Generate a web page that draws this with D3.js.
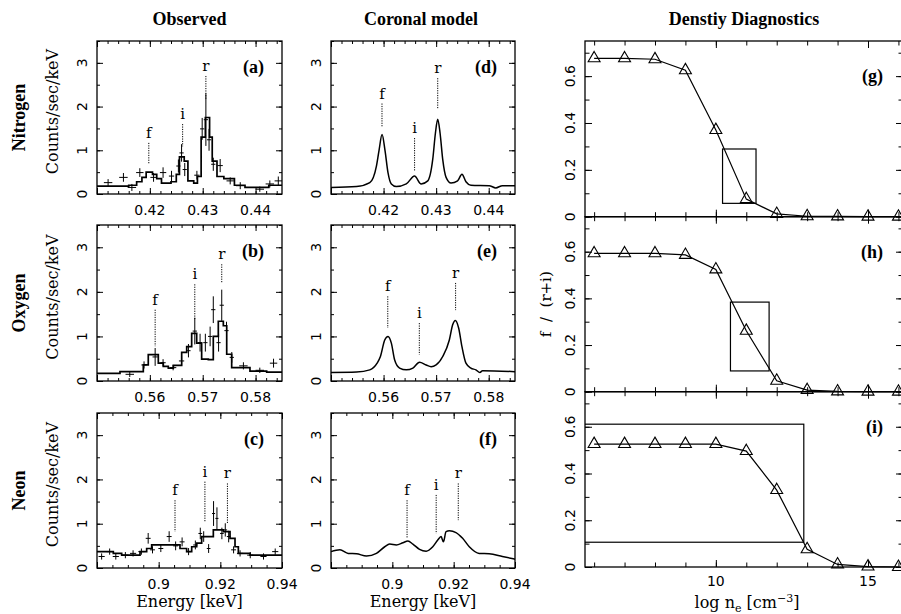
<!DOCTYPE html>
<html>
<head>
<meta charset="utf-8">
<script src="https://cdn.jsdelivr.net/npm/d3@7"></script>
<style>
  body { margin: 0; background: #fff; }
  svg { display: block; }
</style>
</head>
<body>
<div id="chart"></div>
<script>
const svgWidth = 901;
const svgHeight = 614;

// ---------------- data ----------------
const lineNames = ["f", "i", "r"];

// Nitrogen (N VI triplet)
const nitroRange = [0.41, 0.445];
const nitroTickLabels = [0.42, 0.43, 0.44];
const nitroHistEdges = [0.410, 0.416, 0.4175, 0.4185, 0.4193, 0.4205, 0.4213, 0.4222, 0.4240, 0.4250,
  0.4256, 0.4265, 0.4272, 0.4283, 0.4290, 0.4297, 0.4305, 0.4313, 0.4318, 0.4327, 0.4340, 0.4360,
  0.4380, 0.4425, 0.445];
const nitroHistCounts = [0.18, 0.2, 0.28, 0.38, 0.5, 0.45, 0.35, 0.25, 0.28, 0.45, 0.85, 0.75, 0.3,
  0.25, 0.4, 1.3, 1.75, 1.3, 0.75, 0.4, 0.35, 0.2, 0.15, 0.2];
const nitroDataE = [0.4121, 0.4150, 0.4166, 0.4181, 0.4207, 0.4225, 0.4241, 0.4254, 0.4260, 0.4266,
  0.4289, 0.4299, 0.4306, 0.4312, 0.4320, 0.4333, 0.4352, 0.4371, 0.4408, 0.4427, 0.4443];
const nitroDataV = [0.26, 0.38, 0.15, 0.49, 0.38, 0.49, 0.41, 0.64, 0.94, 0.56, 0.43, 1.49, 1.7, 1.24,
  0.68, 0.65, 0.3, 0.19, 0.11, 0.23, 0.3];
const nitroDataEx = [0.0008, 0.0008, 0.0008, 0.0007, 0.0006, 0.0006, 0.0005, 0.0004, 0.0004, 0.0004,
  0.0005, 0.0004, 0.0004, 0.0004, 0.0004, 0.0005, 0.0007, 0.0008, 0.0008, 0.0008, 0.0007];
const nitroDataEy = [0.08, 0.1, 0.08, 0.1, 0.1, 0.12, 0.12, 0.15, 0.2, 0.15, 0.1, 0.25, 0.6, 0.25,
  0.15, 0.15, 0.08, 0.08, 0.06, 0.08, 0.1];
const nitroObsLineE = [0.4198, 0.4262, 0.4306];
const nitroObsLineTop = [1.17, 1.6, 2.7];
const nitroObsLineBot = [0.68, 1.09, 2.15];
const nitroModelE = [0.41, 0.41486, 0.41738, 0.41864, 0.41914, 0.41971, 0.42027, 0.42084, 0.42148,
  0.42242, 0.42432, 0.42589, 0.42715, 0.42841, 0.42935, 0.42986, 0.4303, 0.43075, 0.43125, 0.43189,
  0.43283, 0.43408, 0.43491, 0.43567, 0.43662, 0.44008, 0.44134, 0.4426, 0.445];
const nitroModelV = [0.15, 0.17, 0.26, 0.64, 1.0, 1.36, 1.0, 0.49, 0.23, 0.17, 0.23, 0.41, 0.23, 0.3,
  0.79, 1.39, 1.71, 1.39, 0.79, 0.38, 0.25, 0.3, 0.45, 0.28, 0.2, 0.19, 0.14, 0.19, 0.19];
const nitroModelLineE = [0.4197, 0.4259, 0.4303];
const nitroModelLineTop = [2.07, 1.28, 2.65];
const nitroModelLineBot = [1.54, 0.53, 1.95];

// Oxygen (O VII triplet)
const oxyRange = [0.55, 0.585];
const oxyTickLabels = [0.56, 0.57, 0.58];
const oxyHistEdges = [0.55, 0.55435, 0.55876, 0.5597, 0.5616, 0.56254, 0.56349, 0.56444, 0.56602,
  0.56697, 0.56791, 0.56886, 0.5698, 0.57106, 0.572, 0.57295, 0.5739, 0.57454, 0.57548, 0.57894,
  0.5821, 0.585];
const oxyHistCounts = [0.17, 0.21, 0.36, 0.59, 0.4, 0.33, 0.29, 0.35, 0.64, 0.77, 1.07, 0.85, 0.49,
  0.48, 1.0, 1.34, 1.24, 0.6, 0.3, 0.22, 0.2];
const oxyDataE = [0.5562, 0.5589, 0.5610, 0.5625, 0.5644, 0.5660, 0.5673, 0.5685, 0.5695, 0.5705,
  0.5714, 0.5720, 0.5730, 0.5736, 0.5745, 0.5755, 0.5777, 0.5808, 0.5834];
const oxyDataV = [0.15, 0.36, 0.54, 0.41, 0.3, 0.45, 0.68, 1.12, 0.86, 0.86, 1.0, 1.6, 0.86, 1.7,
  1.13, 0.53, 0.34, 0.24, 0.4];
const oxyDataEx = [0.0008, 0.0005, 0.0005, 0.0005, 0.0006, 0.0005, 0.0004, 0.0004, 0.0004, 0.0004,
  0.0004, 0.0004, 0.0004, 0.0004, 0.0004, 0.0004, 0.0008, 0.0008, 0.0007];
const oxyDataEy = [0.06, 0.08, 0.2, 0.08, 0.06, 0.1, 0.15, 0.3, 0.2, 0.2, 0.22, 0.3, 0.2, 0.35, 0.2,
  0.12, 0.08, 0.06, 0.1];
const oxyObsLineE = [0.5610, 0.5685, 0.5736];
const oxyObsLineTop = [1.6, 2.17, 2.62];
const oxyObsLineBot = [0.78, 1.38, 2.21];
const oxyModelE = [0.55, 0.55486, 0.55738, 0.55877, 0.5594, 0.56022, 0.56085, 0.56148, 0.56211,
  0.56305, 0.56432, 0.56558, 0.56684, 0.5681, 0.56904, 0.56999, 0.57125, 0.57251, 0.57314, 0.57365,
  0.57428, 0.57491, 0.57567, 0.57661, 0.57756, 0.57831, 0.57882, 0.585];
const oxyModelV = [0.19, 0.2, 0.25, 0.4, 0.55, 0.92, 1.0, 0.85, 0.47, 0.29, 0.25, 0.29, 0.42, 0.36,
  0.32, 0.36, 0.55, 0.92, 1.26, 1.36, 1.19, 0.77, 0.4, 0.29, 0.25, 0.19, 0.23, 0.21];
const oxyModelLineE = [0.5608, 0.5668, 0.5737];
const oxyModelLineTop = [1.9, 1.3, 2.2];
const oxyModelLineBot = [1.19, 0.59, 1.59];

// Neon (Ne IX triplet)
const neonRange = [0.88, 0.94];
const neonTickLabels = [0.9, 0.92, 0.94];
const neonHistEdges = [0.88, 0.88529, 0.888, 0.89395, 0.89611, 0.89773, 0.90692, 0.90908, 0.91071,
  0.91233, 0.91395, 0.91773, 0.92097, 0.92314, 0.92476, 0.92584, 0.92963, 0.94];
const neonHistCounts = [0.37, 0.33, 0.29, 0.37, 0.44, 0.52, 0.44, 0.37, 0.48, 0.56, 0.71, 0.86, 0.82,
  0.67, 0.48, 0.33, 0.29];
const neonDataE = [0.8815, 0.8841, 0.8861, 0.8892, 0.8917, 0.8944, 0.8966, 0.8980, 0.9007, 0.9034,
  0.9055, 0.9076, 0.9097, 0.9119, 0.9135, 0.9146, 0.9162, 0.9178, 0.9189, 0.9205, 0.9216, 0.9227,
  0.9243, 0.9264, 0.9297, 0.9340, 0.9378];
const neonDataV = [0.26, 0.37, 0.26, 0.29, 0.33, 0.37, 0.67, 0.41, 0.44, 0.71, 0.5, 0.59, 0.37, 0.52,
  0.78, 0.71, 0.44, 1.23, 1.12, 0.78, 0.86, 0.71, 0.41, 0.33, 0.29, 0.26, 0.37];
const neonDataEx = [0.001, 0.001, 0.001, 0.001, 0.001, 0.001, 0.0008, 0.0008, 0.0008, 0.0008, 0.0008,
  0.0008, 0.0008, 0.0007, 0.0006, 0.0006, 0.0006, 0.0005, 0.0005, 0.0006, 0.0006, 0.0006, 0.0008,
  0.001, 0.001, 0.001, 0.001];
const neonDataEy = [0.07, 0.07, 0.07, 0.07, 0.07, 0.07, 0.12, 0.08, 0.08, 0.12, 0.1, 0.1, 0.08, 0.1,
  0.13, 0.12, 0.1, 0.28, 0.25, 0.13, 0.15, 0.13, 0.08, 0.07, 0.07, 0.07, 0.07];
const neonObsLineE = [0.9053, 0.9150, 0.9223];
const neonObsLineTop = [1.53, 1.95, 1.91];
const neonObsLineBot = [0.82, 1.05, 1.0];
const neonModelE = [0.88, 0.88292, 0.88562, 0.88833, 0.89157, 0.89481, 0.89752, 0.89914, 0.9013,
  0.90346, 0.90508, 0.9067, 0.90887, 0.91103, 0.91319, 0.91481, 0.9159, 0.91665, 0.91752, 0.9186,
  0.92076, 0.92292, 0.92509, 0.92833, 0.93157, 0.93589, 0.94];
const neonModelV = [0.37, 0.41, 0.33, 0.32, 0.27, 0.33, 0.48, 0.54, 0.52, 0.57, 0.61, 0.54, 0.42,
  0.38, 0.48, 0.63, 0.71, 0.59, 0.82, 0.84, 0.8, 0.67, 0.48, 0.33, 0.32, 0.26, 0.2];
const neonModelLineE = [0.9048, 0.9143, 0.9215];
const neonModelLineTop = [1.53, 1.65, 1.91];
const neonModelLineBot = [0.67, 0.78, 1.08];

// density diagnostics: f/(r+i) vs log n_e
const logNe = [6, 7, 8, 9, 10, 11, 12, 13, 14, 15, 16];
const nitroRatio = [0.676, 0.676, 0.672, 0.625, 0.37, 0.075, 0.012, 0.002, 0.001, 0, 0];
const oxyRatio = [0.593, 0.593, 0.593, 0.586, 0.524, 0.261, 0.047, 0.007, 0.001, 0, 0];
const neonRatio = [0.526, 0.526, 0.526, 0.526, 0.526, 0.496, 0.329, 0.076, 0.011, 0.002, 0];
// measured boxes: [logNe lo, logNe hi, ratio lo, ratio hi]
const nitroBox = [10.22, 11.32, 0.057, 0.289];
const oxyBox = [10.48, 11.75, 0.089, 0.384];
const neonBox = [5.0, 12.89, 0.106, 0.611];
const logNeRange = [5.7, 16.15];
const logNeTickLabels = [10, 15];
const ratioRange = [0, 0.75];
const ratioTickLabels = [0, 0.2, 0.4, 0.6];

// ---------------- layout ----------------
const obsCol = [97, 282];
const modelCol = [331, 515];
const densCol = [585, 903];
const specRows = [[41, 194], [225, 381], [413, 568]];
const densRows = [[41, 216.7], [216.7, 391.7], [391.7, 567]];

const serif = "'DejaVu Serif', serif";
const bold = "'Liberation Serif', 'Times New Roman', serif";
const sans = "'DejaVu Sans', sans-serif";

const svg = d3.select("#chart")
  .append("svg")
  .attr("width", svgWidth)
  .attr("height", svgHeight);

// multiples of step inside a domain
function tickRange(d, step) {
  const k0 = Math.ceil(d[0] / step - 1e-6);
  const k1 = Math.floor(d[1] / step + 1e-6);
  return d3.range(k0, k1 + 1).map(k => +(k * step).toFixed(6));
}

// frame with inward ticks on all four sides
function drawFrame(g, x, y, xMajor, xMinor, yMajor, yMinor, lenMajor, lenMinor) {
  const [x0, x1] = x.range();
  const [y1, y0] = y.range();
  const sides = [
    [d3.axisBottom, x, `translate(0,${y1})`, xMajor, xMinor],
    [d3.axisTop, x, `translate(0,${y0})`, xMajor, xMinor],
    [d3.axisLeft, y, `translate(${x0},0)`, yMajor, yMinor],
    [d3.axisRight, y, `translate(${x1},0)`, yMajor, yMinor]
  ];
  sides.forEach(([axisFn, sc, tr, major, minor]) => {
    [[minor, lenMinor], [major, lenMajor]].forEach(([vals, len]) => {
      g.append("g")
        .attr("transform", tr)
        .call(axisFn(sc).tickValues(vals).tickSize(-len).tickFormat(""))
        .call(a => a.select(".domain").remove())
        .selectAll("line").attr("stroke", "#000").attr("stroke-width", 1);
    });
  });
  g.append("rect")
    .attr("x", x0).attr("y", y0)
    .attr("width", x1 - x0).attr("height", y1 - y0)
    .attr("fill", "none").attr("stroke", "#000").attr("stroke-width", 1.3);
}

function yTickLabels(g, x, y, vals, fmt) {
  const x0 = x.range()[0];
  g.selectAll(null).data(vals).enter().append("text")
    .attr("transform", d => `translate(${x0 - 10},${y(d)}) rotate(-90)`)
    .attr("text-anchor", "middle")
    .attr("font-family", sans).attr("font-size", 14)
    .text(fmt);
}

function xTickLabels(g, x, y, vals, fmt, off) {
  const yb = y.range()[0];
  g.selectAll(null).data(vals).enter().append("text")
    .attr("x", d => x(d)).attr("y", yb + off)
    .attr("text-anchor", "middle")
    .attr("font-family", sans).attr("font-size", 14)
    .text(fmt);
}

function lineMarkers(g, x, y, es, tops, bots) {
  es.forEach((e, i) => {
    g.append("line")
      .attr("x1", x(e)).attr("x2", x(e))
      .attr("y1", y(tops[i])).attr("y2", y(bots[i]))
      .attr("stroke", "#000").attr("stroke-width", 1)
      .attr("stroke-dasharray", "1.2,1.2");
    g.append("text")
      .attr("x", x(e)).attr("y", y(tops[i]) - 5)
      .attr("text-anchor", "middle")
      .attr("font-family", serif).attr("font-size", 15)
      .text(lineNames[i]);
  });
}

function panelTag(g, x, y, tag, dy) {
  g.append("text")
    .attr("x", x.range()[1] - 18).attr("y", y.range()[1] + dy)
    .attr("text-anchor", "end")
    .attr("font-family", bold).attr("font-weight", "bold").attr("font-size", 18)
    .text(tag);
}

const fmtE = d => String(+d.toFixed(3));

const elements = [
  { name: "Nitrogen", range: nitroRange, minor: 0.002, major: 0.01, labels: nitroTickLabels,
    edges: nitroHistEdges, counts: nitroHistCounts,
    dE: nitroDataE, dV: nitroDataV, dEx: nitroDataEx, dEy: nitroDataEy,
    oLE: nitroObsLineE, oLT: nitroObsLineTop, oLB: nitroObsLineBot,
    mE: nitroModelE, mV: nitroModelV,
    mLE: nitroModelLineE, mLT: nitroModelLineTop, mLB: nitroModelLineBot,
    ratio: nitroRatio, box: nitroBox, tags: ["(a)", "(d)", "(g)"] },
  { name: "Oxygen", range: oxyRange, minor: 0.002, major: 0.01, labels: oxyTickLabels,
    edges: oxyHistEdges, counts: oxyHistCounts,
    dE: oxyDataE, dV: oxyDataV, dEx: oxyDataEx, dEy: oxyDataEy,
    oLE: oxyObsLineE, oLT: oxyObsLineTop, oLB: oxyObsLineBot,
    mE: oxyModelE, mV: oxyModelV,
    mLE: oxyModelLineE, mLT: oxyModelLineTop, mLB: oxyModelLineBot,
    ratio: oxyRatio, box: oxyBox, tags: ["(b)", "(e)", "(h)"] },
  { name: "Neon", range: neonRange, minor: 0.005, major: 0.02, labels: neonTickLabels,
    edges: neonHistEdges, counts: neonHistCounts,
    dE: neonDataE, dV: neonDataV, dEx: neonDataEx, dEy: neonDataEy,
    oLE: neonObsLineE, oLT: neonObsLineTop, oLB: neonObsLineBot,
    mE: neonModelE, mV: neonModelV,
    mLE: neonModelLineE, mLT: neonModelLineTop, mLB: neonModelLineBot,
    ratio: neonRatio, box: neonBox, tags: ["(c)", "(f)", "(i)"] }
];

const countTicksMajor = [0, 1, 2, 3];
const countTicksMinor = tickRange([0, 3.5], 0.5);

elements.forEach((el, row) => {
  const [ry0, ry1] = specRows[row];
  const xMinor = tickRange(el.range, el.minor);
  const xMajor = tickRange(el.range, el.major);

  // ---- observed spectrum ----
  const xo = d3.scaleLinear().domain(el.range).range(obsCol);
  const yo = d3.scaleLinear().domain([0, 3.5]).range([ry1, ry0]);
  const go = svg.append("g");

  const histPts = el.edges.map((e, i) => [e, el.counts[Math.min(i, el.counts.length - 1)]]);
  go.append("path")
    .datum(histPts)
    .attr("fill", "none").attr("stroke", "#000").attr("stroke-width", 1.7)
    .attr("d", d3.line().x(d => xo(d[0])).y(d => yo(d[1])).curve(d3.curveStepAfter));

  el.dE.forEach((e, i) => {
    go.append("line")
      .attr("x1", xo(e - el.dEx[i])).attr("x2", xo(e + el.dEx[i]))
      .attr("y1", yo(el.dV[i])).attr("y2", yo(el.dV[i]))
      .attr("stroke", "#000").attr("stroke-width", 1);
    go.append("line")
      .attr("x1", xo(e)).attr("x2", xo(e))
      .attr("y1", yo(el.dV[i] - el.dEy[i])).attr("y2", yo(el.dV[i] + el.dEy[i]))
      .attr("stroke", "#000").attr("stroke-width", 1);
  });

  lineMarkers(go, xo, yo, el.oLE, el.oLT, el.oLB);
  drawFrame(go, xo, yo, xMajor, xMinor, countTicksMajor, countTicksMinor, 6, 3);
  yTickLabels(go, xo, yo, countTicksMajor, d => d);
  xTickLabels(go, xo, yo, el.labels, fmtE, 21);
  panelTag(go, xo, yo, el.tags[0], 32);

  go.append("text")
    .attr("transform", `translate(58,${(ry0 + ry1) / 2 - 6}) rotate(-90)`)
    .attr("text-anchor", "middle")
    .attr("font-family", serif).attr("font-size", 16)
    .text("Counts/sec/keV");
  go.append("text")
    .attr("transform", `translate(25,${(ry0 + ry1) / 2}) rotate(-90)`)
    .attr("text-anchor", "middle")
    .attr("font-family", bold).attr("font-weight", "bold").attr("font-size", 18)
    .text(el.name);

  // ---- coronal model ----
  const xm = d3.scaleLinear().domain(el.range).range(modelCol);
  const ym = d3.scaleLinear().domain([0, 3.5]).range([ry1, ry0]);
  const gm = svg.append("g");

  gm.append("path")
    .datum(el.mE.map((e, i) => [e, el.mV[i]]))
    .attr("fill", "none").attr("stroke", "#000").attr("stroke-width", 1.5)
    .attr("d", d3.line().x(d => xm(d[0])).y(d => ym(d[1])).curve(d3.curveMonotoneX));

  lineMarkers(gm, xm, ym, el.mLE, el.mLT, el.mLB);
  drawFrame(gm, xm, ym, xMajor, xMinor, countTicksMajor, countTicksMinor, 6, 3);
  yTickLabels(gm, xm, ym, countTicksMajor, d => d);
  xTickLabels(gm, xm, ym, el.labels, fmtE, 21);
  panelTag(gm, xm, ym, el.tags[1], 32);

  // ---- density diagnostics ----
  const [dy0, dy1] = densRows[row];
  const xd = d3.scaleLinear().domain(logNeRange).range(densCol);
  const yd = d3.scaleLinear().domain(ratioRange).range([dy1, dy0]);
  const gd = svg.append("g");
  const clipId = "clip-dens-" + row;
  gd.append("clipPath").attr("id", clipId)
    .append("rect")
    .attr("x", densCol[0]).attr("y", dy0)
    .attr("width", densCol[1] - densCol[0]).attr("height", dy1 - dy0);

  gd.append("rect")
    .attr("clip-path", `url(#${clipId})`)
    .attr("x", xd(el.box[0])).attr("y", yd(el.box[3]))
    .attr("width", xd(el.box[1]) - xd(el.box[0]))
    .attr("height", yd(el.box[2]) - yd(el.box[3]))
    .attr("fill", "none").attr("stroke", "#000").attr("stroke-width", 1.2);

  gd.append("path")
    .datum(logNe.map((n, i) => [n, el.ratio[i]]))
    .attr("fill", "none").attr("stroke", "#000").attr("stroke-width", 1.2)
    .attr("d", d3.line().x(d => xd(d[0])).y(d => yd(d[1])));

  gd.selectAll(null).data(logNe).enter().append("path")
    .attr("transform", (d, i) => `translate(${xd(d)},${yd(el.ratio[i])})`)
    .attr("d", d3.symbol(d3.symbolTriangle, 62))
    .attr("fill", "none").attr("stroke", "#000").attr("stroke-width", 1.1);

  drawFrame(gd, xd, yd, tickRange(logNeRange, 5), tickRange(logNeRange, 1),
    tickRange(ratioRange, 0.2), tickRange(ratioRange, 0.1), 7, 4.5);
  yTickLabels(gd, xd, yd, ratioTickLabels, d => d);
  if (row === 2) xTickLabels(gd, xd, yd, logNeTickLabels, d => d, 19);
  gd.append("text")
    .attr("x", densCol[1] - 20).attr("y", dy0 + 41)
    .attr("text-anchor", "end")
    .attr("font-family", bold).attr("font-weight", "bold").attr("font-size", 18)
    .text(el.tags[2]);
});

// column titles
[["Observed", (obsCol[0] + obsCol[1]) / 2],
 ["Coronal model", (modelCol[0] + modelCol[1]) / 2 - 2],
 ["Denstiy Diagnostics", (densCol[0] + densCol[1]) / 2]].forEach(([t, cx]) => {
  svg.append("text")
    .attr("x", cx).attr("y", 25)
    .attr("text-anchor", "middle")
    .attr("font-family", bold).attr("font-weight", "bold").attr("font-size", 18)
    .text(t);
});

// axis titles
[obsCol, modelCol].forEach(c => {
  svg.append("text")
    .attr("x", (c[0] + c[1]) / 2).attr("y", 607)
    .attr("text-anchor", "middle")
    .attr("font-family", serif).attr("font-size", 16)
    .text("Energy [keV]");
});

const logLabel = svg.append("text")
  .attr("x", 747).attr("y", 608)
  .attr("text-anchor", "middle")
  .attr("font-family", serif).attr("font-size", 16);
logLabel.append("tspan").text("log  n");
logLabel.append("tspan").attr("dy", 4).attr("font-size", 11).text("e");
logLabel.append("tspan").attr("dy", -4).text(" [cm");
logLabel.append("tspan").attr("dy", -6).attr("font-size", 11).text("\u22123");
logLabel.append("tspan").attr("dy", 6).text("]");

svg.append("text")
  .attr("transform", `translate(551,${(densRows[1][0] + densRows[1][1]) / 2}) rotate(-90)`)
  .attr("text-anchor", "middle")
  .attr("font-family", serif).attr("font-size", 15)
  .attr("xml:space", "preserve")
  .style("white-space", "pre")
  .text("f  /  (r+i)");
</script>
</body>
</html>
